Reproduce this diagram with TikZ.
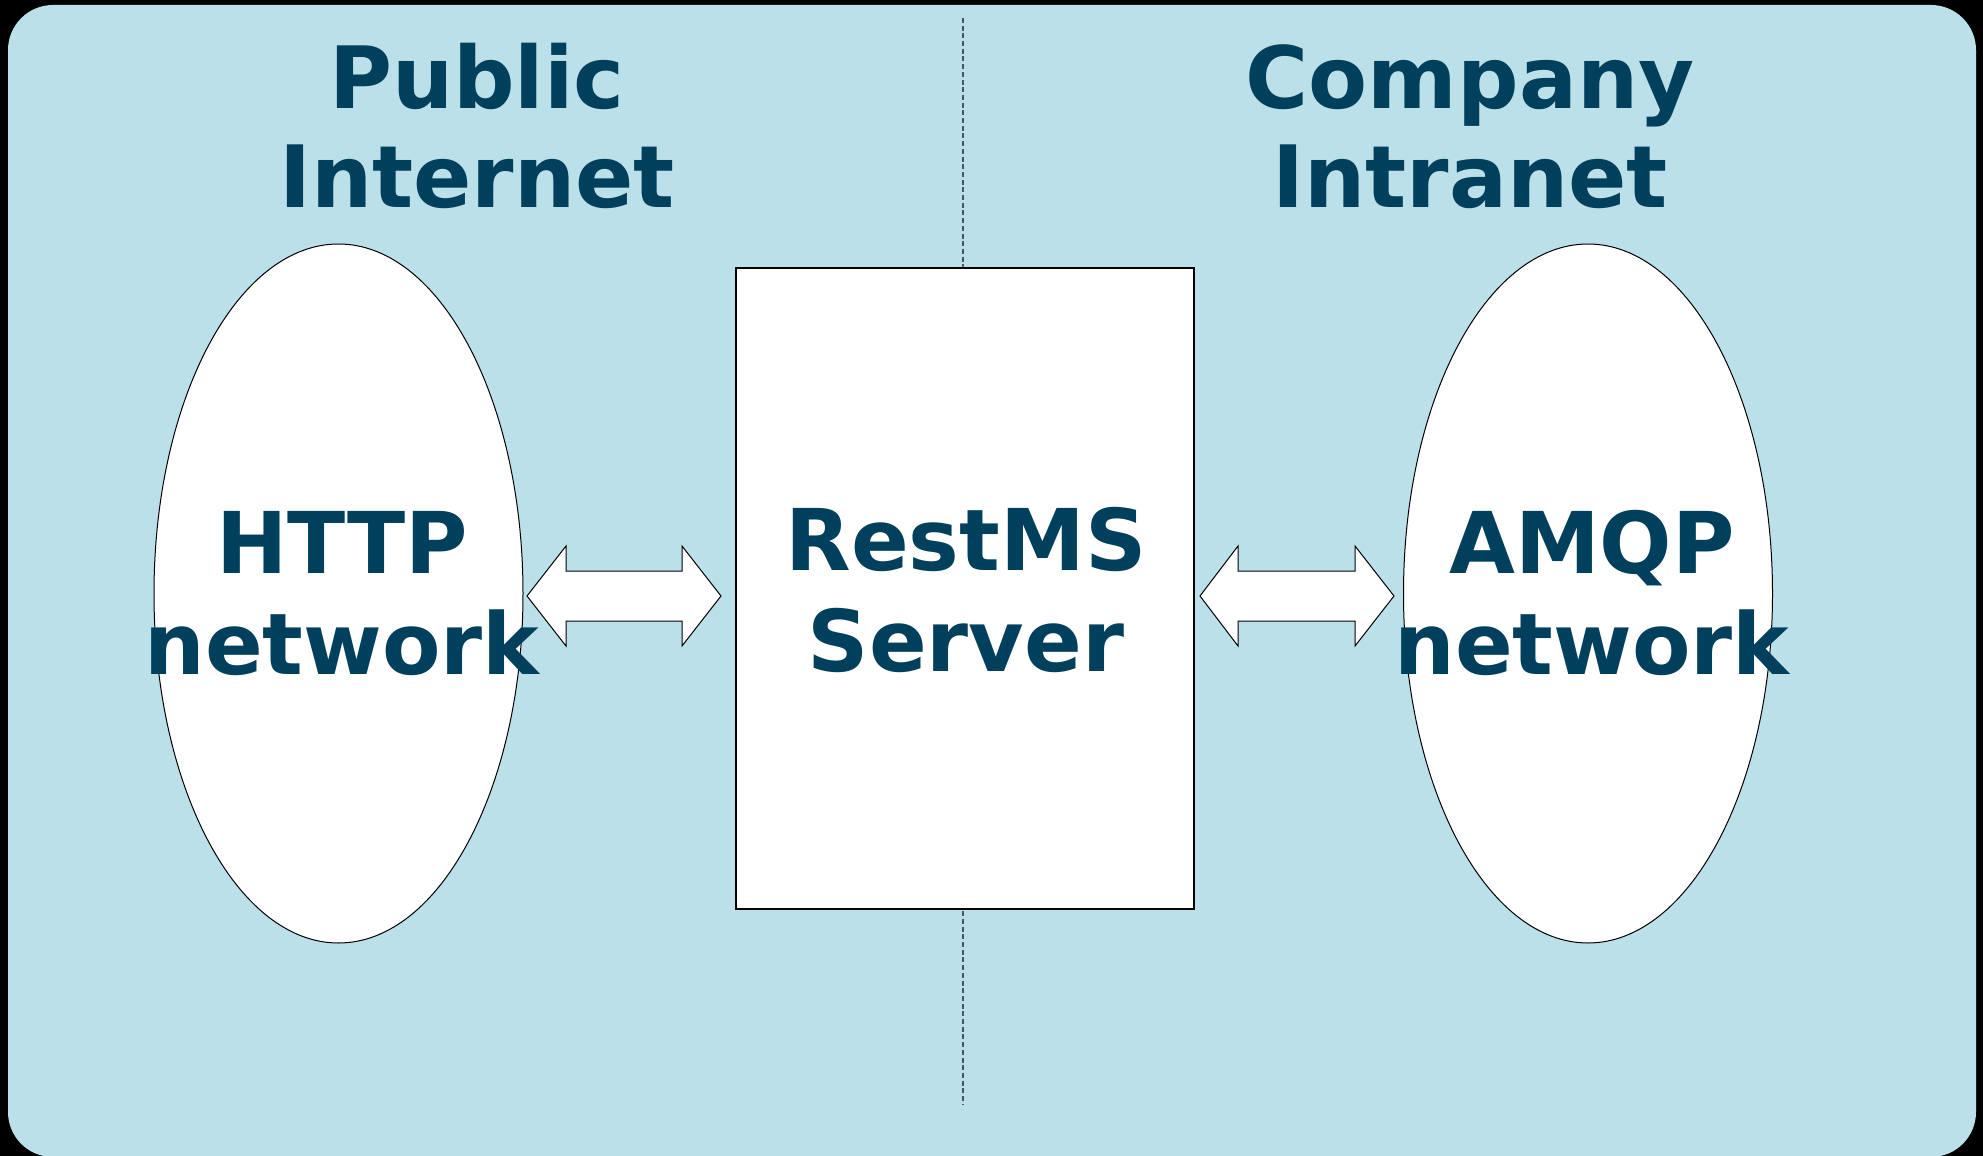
\documentclass[tikz,border=0pt]{standalone}
\usepackage{fontspec}
\setmainfont{DejaVu Sans}
\usetikzlibrary{shapes.geometric}
\definecolor{bgblue}{RGB}{188,224,233}
\definecolor{txtblue}{RGB}{0,64,92}
\definecolor{dashgray}{RGB}{75,85,95}
\newcommand{\twolines}[2]{\vtop{\halign{\hfil##\hfil\cr #1\cr #2\cr}}}
\tikzset{
  title/.style={inner sep=0pt, anchor=base, text=txtblue, font=\fontsize{43pt}{49.5pt}\selectfont\bfseries},
  label/.style={inner sep=0pt, anchor=base, text=txtblue, font=\fontsize{42.6pt}{50.5pt}\selectfont\bfseries},
  net/.style={ellipse, draw=black, line width=0.5pt, fill=white, inner sep=0pt, minimum width=184.5pt, minimum height=349.5pt},
  server/.style={rectangle, draw=black, line width=0.75pt, fill=white, inner sep=0pt, minimum width=229pt, minimum height=320.5pt},
  blockarrow/.style={draw=black, line width=0.5pt, fill=white, line join=miter},
  divider/.style={draw=dashgray, line width=0.65pt, dash pattern=on 2.5pt off 1.35pt}
}
\begin{document}
\begin{tikzpicture}[x=0.5pt,y=-0.5pt]
\fill[black] (0,0) rectangle (1983,1156);
\useasboundingbox (0,0) rectangle (1983,1156);
\fill[bgblue, rounded corners=22.5pt] (8,5) rectangle (1976,1157);
\coordinate (divtop) at (963,18);
\coordinate (divbot) at (963,1104);
\draw[divider] (divtop) -- (divbot);
\node[net] (http) at (338.5,593.5) {};
\node[net] (amqp) at (1588,593.5) {};
\node[server] (srv) at (965,588.5) {};
\node[title] (pub) at (477,109) {\twolines{Public}{Internet}};
\node[title] (comp) at (1470,109) {\twolines{Company}{Intranet}};
\node[label] (httpl) at (342,573) {\twolines{HTTP}{network}};
\node[label] (srvl) at (966,570) {\twolines{RestMS}{Server}};
\node[label] (amqpl) at (1592,573) {\twolines{AMQP}{network}};
\draw[blockarrow] (527,596) -- (566,546) -- (566,571) -- (682,571) -- (682,546) -- (721,596) -- (682,646) -- (682,621) -- (566,621) -- (566,646) -- cycle;
\draw[blockarrow] (1200,596) -- (1238,546) -- (1238,571) -- (1355,571) -- (1355,546) -- (1394,596) -- (1355,646) -- (1355,621) -- (1238,621) -- (1238,646) -- cycle;
\end{tikzpicture}
\end{document}
